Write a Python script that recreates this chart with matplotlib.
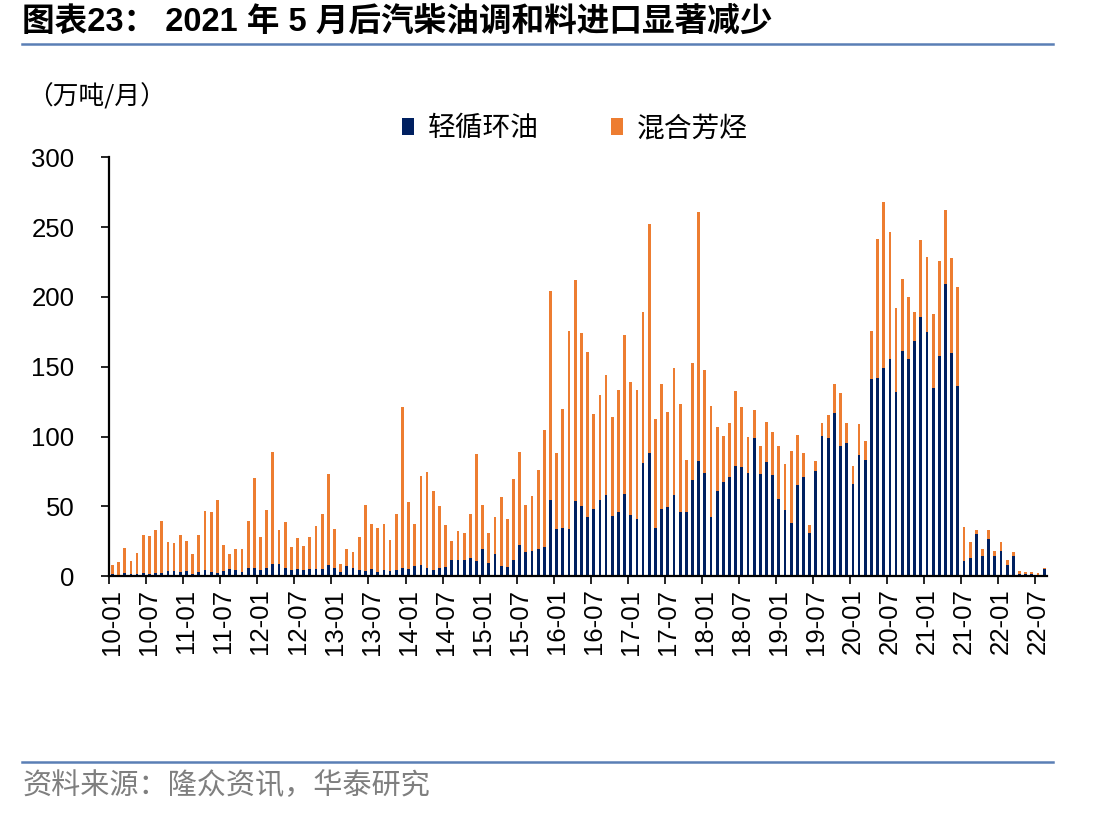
import matplotlib
matplotlib.use("Agg")
import matplotlib.pyplot as plt
import numpy as np

# monthly data, 2010-01 .. 2022-08 (万吨/月)
lco = [1.2, 0.5, 1.9, 1.2, 1.2, 2.2, 1.4, 1.9, 1.9, 3.3, 3.6, 2.6,
       3.3, 1.4, 2.9, 4.3, 2.6, 2.2, 3.6, 5.0, 4.3, 2.9, 6.0, 5.7,
       4.3, 6.0, 8.6, 8.6, 6.0, 4.3, 4.8, 4.1, 4.8, 4.8, 5.0, 7.7,
       5.7, 2.6, 6.9, 5.7, 4.1, 3.3, 4.8, 2.6, 4.1, 3.3, 4.1, 5.7,
       4.8, 6.9, 7.7, 5.7, 4.1, 5.7, 6.2, 11.3, 11.3, 11.3, 12.8, 10.6,
       19.4, 9.3, 15.8, 7.2, 6.5, 11.5, 22.2, 17.4, 18.0, 19.5, 20.8, 54.5,
       33.7, 34.4, 33.7, 53.8, 50.5, 42.3, 48.1, 54.8, 58.3, 43.0, 45.9, 59.1,
       43.8, 40.9, 81.3, 88.5, 34.4, 48.3, 49.7, 58.3, 46.1, 46.1, 69.1, 82.7,
       74.1, 42.1, 61.2, 67.7, 71.3, 79.1, 78.4, 74.1, 99.2, 73.4, 82.0, 72.7,
       55.0, 47.6, 38.3, 65.5, 71.3, 31.1, 75.6, 100.7, 99.2, 117.2, 93.0, 95.0,
       66.3, 86.5, 83.2, 141.1, 142.0, 149.0, 155.9, 132.0, 161.2, 155.7, 168.6, 185.8,
       175.0, 134.6, 157.6, 209.0, 159.6, 136.4, 11.0, 12.9, 29.9, 14.1, 26.5, 14.1,
       17.7, 7.7, 14.1, 1.2, 1.2, 1.2, 0.2, 5.0]
total = [7.7, 10.3, 19.8, 11.0, 16.7, 29.2, 28.5, 32.8, 39.2, 24.6, 23.4, 29.2,
         24.9, 16.0, 29.7, 46.9, 45.7, 54.3, 22.0, 16.0, 19.1, 19.1, 39.2, 70.0,
         27.7, 47.1, 89.2, 33.2, 38.5, 20.6, 27.0, 21.8, 28.2, 36.1, 44.2, 73.2,
         33.5, 8.4, 19.1, 17.5, 28.2, 50.7, 37.1, 34.7, 37.1, 25.6, 44.2, 121.5,
         52.8, 37.1, 72.0, 74.2, 60.7, 50.5, 36.7, 25.3, 32.0, 31.1, 44.7, 87.8,
         51.2, 30.6, 42.3, 56.4, 41.1, 69.3, 88.7, 50.8, 57.7, 75.8, 104.7, 204.4,
         88.0, 119.6, 175.5, 212.1, 174.1, 160.4, 116.0, 129.8, 144.0, 113.8, 133.4, 172.9,
         138.9, 133.2, 189.4, 252.3, 112.6, 137.5, 117.4, 149.0, 123.1, 83.0, 152.6, 261.0,
         147.8, 122.2, 106.6, 100.4, 109.8, 132.5, 121.2, 99.7, 119.1, 93.0, 110.2, 103.3,
         93.0, 80.1, 89.7, 101.1, 88.0, 36.3, 82.5, 109.8, 115.3, 137.7, 131.3, 109.5,
         78.5, 109.0, 97.1, 175.3, 241.3, 268.0, 246.8, 192.0, 212.8, 199.7, 188.9, 240.8,
         228.4, 187.7, 225.7, 262.5, 227.6, 207.2, 35.4, 24.2, 32.8, 19.1, 33.0, 17.7,
         24.2, 11.2, 17.0, 3.3, 2.6, 2.6, 1.9, 5.5]
aromatics = [round(t - b, 1) for t, b in zip(total, lco)]

years = list(range(10, 23))
tick_labels = []
for y in years:
    tick_labels.append("%02d-01" % y)
    tick_labels.append("%02d-07" % y)

plt.rcParams['font.family'] = ['Liberation Sans', 'Noto Sans CJK SC']

fig = plt.figure(figsize=(11.12, 8.16), dpi=100)
ax = fig.add_axes([0.0983, 0.2941, 0.8435, 0.5129])

x = np.arange(len(lco))
ax.bar(x, lco, width=0.45, color='#002060', label='轻循环油')
ax.bar(x, aromatics, width=0.45, bottom=lco, color='#ED7D31', label='混合芳烃')

ax.set_xlim(-0.5, len(lco) - 0.5)
ax.set_ylim(0, 300)
ax.set_yticks(range(0, 301, 50))
ax.tick_params(axis='y', labelsize=18.5, length=6, width=1.2, pad=19)

ax.set_xticks(np.arange(0, len(lco), 6))
ax.set_xticklabels(tick_labels, rotation=90)
ax.set_xticks(np.arange(-0.5, len(lco) - 1, 6), minor=True)
ax.tick_params(axis='x', which='major', labelsize=18.5, length=0, pad=9)
ax.tick_params(axis='x', which='minor', length=6, width=1.2)

for s in ['top', 'right']:
    ax.spines[s].set_visible(False)
for s in ['left', 'bottom']:
    ax.spines[s].set_linewidth(1.6)

ax.legend(loc='center', bbox_to_anchor=(0.517, 0.843), bbox_transform=fig.transFigure,
          ncol=2, frameon=False, handlelength=0.42, handleheight=0.6,
          handletextpad=0.5, columnspacing=2.6, prop={'family': ['Noto Sans CJK SC'], 'size': 20})

fig.text(0.020, 0.972, '图表23： 2021 年 5 月后汽柴油调和料进口显著减少', fontsize=23.5,
         fontweight='bold', ha='left', va='center')
fig.text(0.024, 0.881, '（万吨/月）', fontsize=18.5, ha='left', va='center',
         family=['Noto Sans CJK SC'])
fig.text(0.020, 0.037, '资料来源：隆众资讯，华泰研究', fontsize=21, color='#7f7f7f',
         ha='left', va='center', family=['Noto Sans CJK SC'])

fig.add_artist(plt.Line2D([0.020, 0.947], [0.946, 0.946], color='#5a7fb5', lw=1.8))
fig.add_artist(plt.Line2D([0.020, 0.947], [0.066, 0.066], color='#5a7fb5', lw=1.8))

fig.savefig('out.png', dpi=100)
